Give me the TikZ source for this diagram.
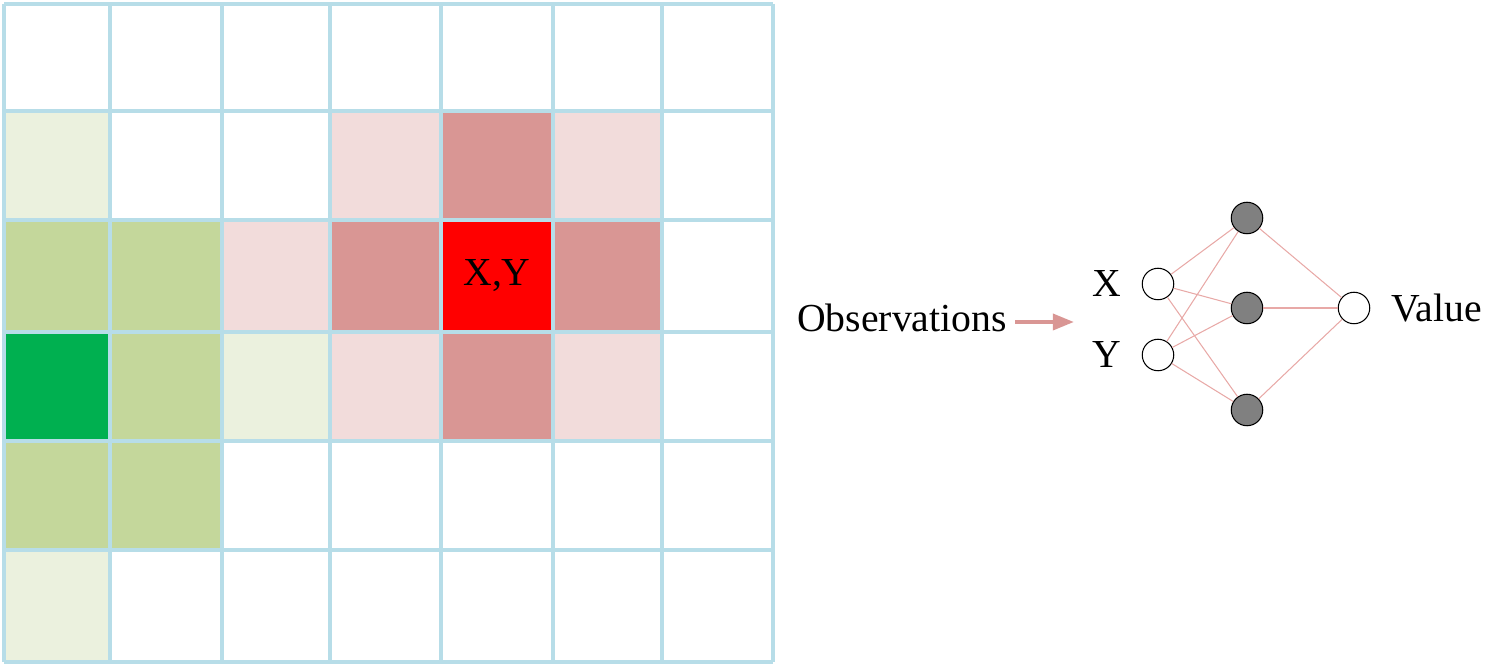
\documentclass[tikz,border=0pt]{standalone}
\usepackage{fontspec}
\setmainfont{Liberation Serif}
\usetikzlibrary{positioning}
\usetikzlibrary{arrows.meta}
\definecolor{gridblue}{HTML}{B7DDE8}
\definecolor{lgreen}{HTML}{EBF1DE}
\definecolor{mgreen}{HTML}{C4D79B}
\definecolor{dgreen}{HTML}{00B050}
\definecolor{lpink}{HTML}{F2DCDB}
\definecolor{mpink}{HTML}{D99694}
\definecolor{linkred}{HTML}{E8A9A7}
\def\colx{{4,110,222,330,441,553,662,773}}
\def\rowy{{4,111,220,332,441,550,662}}
\tikzset{neuron/.style={circle,draw=black,fill=white,line width=0.6pt,inner
    sep=0pt,minimum size=0.63cm},
    hidden/.style={neuron,fill=gray},
    link/.style={-,linkred,line width=0.6pt},
    obsarrow/.style={-{Triangle[length=12pt,width=9pt]},mpink,line width=2.3pt},
    lbl/.style={font=\fontsize{22.6}{26}\selectfont,inner sep=0pt}}
\begin{document}
\begin{tikzpicture}[x=0.02cm,y=-0.02cm]
        \useasboundingbox (0,0) rectangle (1509,665);
        % cells: column/row/colour
        \foreach \c/\r/\col in {0/1/lgreen,3/1/lpink,4/1/mpink,5/1/lpink,
            0/2/mgreen,1/2/mgreen,2/2/lpink,3/2/mpink,4/2/red,5/2/mpink,
            0/3/dgreen,1/3/mgreen,2/3/lgreen,3/3/lpink,4/3/mpink,5/3/lpink,
            0/4/mgreen,1/4/mgreen,0/5/lgreen}{
            \pgfmathsetmacro\xa{\colx[\c]}
            \pgfmathsetmacro\xb{\colx[\c+1]}
            \pgfmathsetmacro\ya{\rowy[\r]}
            \pgfmathsetmacro\yb{\rowy[\r+1]}
            \fill[\col] (\xa,\ya) rectangle (\xb,\yb);}
        \foreach \i in {0,...,7}{
            \pgfmathsetmacro\xa{\colx[\i]}
            \draw[gridblue,line width=2.3pt] (\xa,4) -- (\xa,662);}
        \foreach \j in {0,...,6}{
            \pgfmathsetmacro\ya{\rowy[\j]}
            \draw[gridblue,line width=2.3pt] (4,\ya) -- (773,\ya);}
        \node[lbl] (xy) at (497,276) {X,Y};
        % network
        \node[lbl] (obs) at (902,318) {Observations};
        \coordinate (obsend) at (1074,322);
        \draw[obsarrow] (1015,322) -- (obsend);
        \node[neuron] (x) at (1158,284) {};
        \node[neuron] (y) at (1158,355) {};
        \node[hidden] (h1) at (1247,218) {};
        \node[hidden] (h2) at (1247,308) {};
        \node[hidden] (h3) at (1247,410) {};
        \node[neuron] (out) at (1354,308) {};
        \node[lbl,left=0.4cm of x] (xl) {X};
        \node[lbl,left=0.4cm of y] (yl) {Y};
        \node[lbl,right=0.42cm of out] (val) {Value};
        \foreach \a in {x,y}
            \foreach \b in {h1,h2,h3}
                \draw[link](\a)--(\b);
        \foreach \b in {h1,h2,h3}
            \draw[link](\b)--(out);
    \end{tikzpicture}
\end{document}
